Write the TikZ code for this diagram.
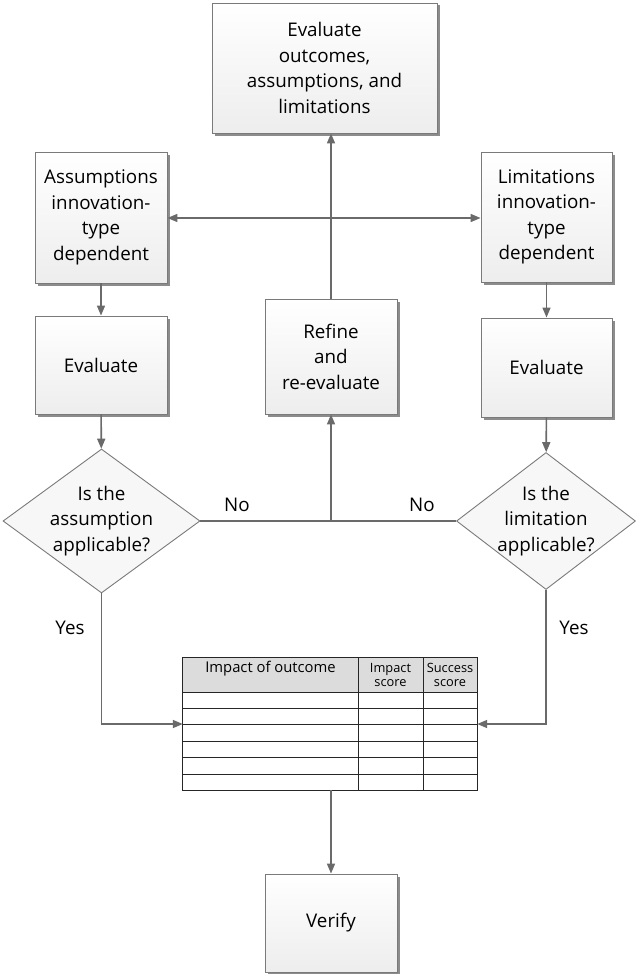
\documentclass[tikz,border=0pt]{standalone}
\usepackage{fontspec}
\setmainfont{Open Sans}
\usetikzlibrary{arrows.meta,shapes.geometric,shadows}
\definecolor{linegray}{HTML}{6A6A6A}
\definecolor{edgegray}{HTML}{7A7A7A}
\definecolor{headgray}{HTML}{DCDCDC}
\newcommand{\bodyfont}{\fontsize{18.8}{25.5}\selectfont}
\newcommand{\headfont}{\fontsize{14.8}{16}\selectfont}
\newcommand{\smallhead}{\fontsize{12.8}{13.5}\selectfont}
\tikzset{
  procbox/.style={draw=edgegray, line width=0.9pt, top color=white, bottom color=black!7,
    drop shadow={shadow xshift=2.5pt, shadow yshift=-2.5pt, fill=black!45, opacity=1},
    align=center, inner sep=0pt, font=\bodyfont},
  decision/.style={diamond, draw=edgegray, line width=0.9pt, fill=black!3, inner sep=0pt},
  conn/.style={draw=linegray, line width=1.6pt},
  arr/.style={conn, -{Triangle[length=10pt,width=8pt]}},
  lbl/.style={font=\bodyfont, align=center},
  gridline/.style={draw=black!85, line width=0.8pt},
}
\begin{document}
\begin{tikzpicture}[x=1pt, y=-1pt]
\useasboundingbox (0,0) rectangle (635,974);

% process boxes
\node[procbox, minimum width=225pt, minimum height=130pt] (top) at (324.5,68)
  {Evaluate\\outcomes,\\assumptions, and\\limitations};
\node[procbox, minimum width=132pt, minimum height=131pt] (asm) at (101,217.5)
  {Assumptions\\innovation-\\type\\dependent};
\node[procbox, minimum width=131pt, minimum height=130pt] (lim) at (546.5,217)
  {Limitations\\innovation-\\type\\dependent};
\node[procbox, minimum width=132pt, minimum height=98pt] (evl) at (101,365) {Evaluate};
\node[procbox, minimum width=131pt, minimum height=99pt] (evr) at (546.5,367.5) {Evaluate};
\node[procbox, minimum width=132pt, minimum height=115pt] (refine) at (331,356.5)
  {Refine\\and\\re-evaluate};
\node[procbox, minimum width=132pt, minimum height=98pt] (verify) at (331,923) {Verify};

% decisions
\node[decision, minimum width=197pt, minimum height=144pt,
  label={[lbl]center:{Is the\\assumption\\applicable?}}] (asmq) at (101.5,521) {};
\node[decision, minimum width=179pt, minimum height=137pt,
  label={[lbl]center:{Is the\\limitation\\applicable?}}] (limq) at (546,521) {};

% outcome table
\node[draw=none, minimum width=294pt, minimum height=132pt, inner sep=0pt] (tbl) at (330,724) {};
\fill[headgray] (183,658) rectangle (477,692);
\foreach \yy in {692,708.4,724.8,741.2,757.6,774}
  \draw[gridline] (183,\yy) -- (477,\yy);
\draw[gridline] (358,658) -- (358,790);
\draw[gridline] (423,658) -- (423,790);
\draw[gridline] (tbl.north west) rectangle (tbl.south east);
\node[font=\headfont] (hImpact) at (270.5,669) {Impact of outcome};
\node[font=\smallhead, align=center, inner sep=0pt] (hScore) at (390.5,675) {Impact\\score};
\node[font=\smallhead, align=center, inner sep=0pt] (hSuccess) at (450,675) {Success\\score};

% connectors
\coordinate (hub) at (331,218);
\coordinate (nojoin) at (331,521);
\draw[arr] (refine.north) -- (refine.north |- top.south);
\draw[arr] (hub) -- (hub -| asm.east);
\draw[arr] (hub) -- (hub -| lim.west);
\draw[arr] (asm) -- (evl);
\draw[arr] (lim) -- (evr);
\draw[arr] (evl) -- (asmq);
\draw[arr] (evr) -- (limq);
\draw[conn] (asmq.east) -- (limq.west);
\draw[arr] (nojoin) -- (refine.south);
\draw[arr] (asmq.south) |- (tbl.west);
\draw[arr] (limq.south) |- (tbl.east);
\draw[arr] (tbl.south -| verify.north) -- (verify.north);

% branch labels
\node[lbl] (no1) at (237,505) {No};
\node[lbl] (no2) at (422,505) {No};
\node[lbl] (yes1) at (70,628) {Yes};
\node[lbl] (yes2) at (574,628) {Yes};
\end{tikzpicture}
\end{document}
